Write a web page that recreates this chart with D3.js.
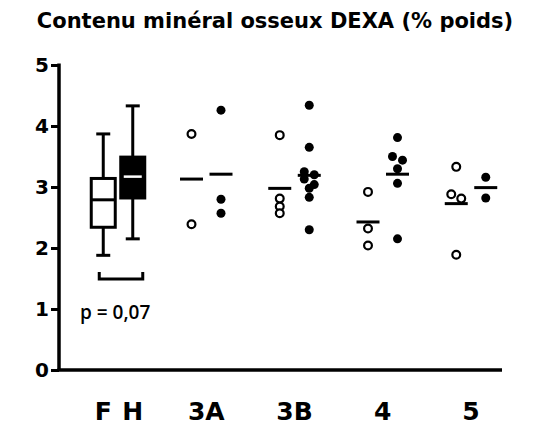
<!DOCTYPE html>
<html>
<head>
<meta charset="utf-8">
<script src="https://cdn.jsdelivr.net/npm/d3@7"></script>
<style>
  body { margin: 0; background: #fff; }
  svg text { font-family: "DejaVu Sans", sans-serif; }
</style>
</head>
<body>
<div id="chart"></div>
<script>
// Box plots (F / H)
const boxLabels = ["F", "H"];
const boxStats = [
  { min: 1.88, q1: 2.34, median: 2.79, q3: 3.14, max: 3.87 },
  { min: 2.15, q1: 2.82, median: 3.17, q3: 3.49, max: 4.33 }
];

// Scatter groups: open = first sex, filled = second
const groups = ["3A", "3B", "4", "5"];
const openValues = [
  [3.87, 2.39],
  [3.85, 2.81, 2.68, 2.57],
  [2.92, 2.32, 2.04],
  [3.33, 2.88, 2.81, 1.89]
];
const filledValues = [
  [4.26, 2.80, 2.57],
  [4.34, 3.65, 3.25, 3.20, 3.13, 3.04, 2.98, 2.83, 2.30],
  [3.81, 3.50, 3.44, 3.30, 3.06, 2.15],
  [3.16, 2.82]
];
const yTicks = [0, 1, 2, 3, 4, 5];
const pLabel = "p = 0,07";
const title = "Contenu minéral osseux DEXA (% poids)";

const width = 550, height = 425;
const plotLeft = 59, plotRight = 502, plotTop = 65, plotBottom = 370;

const svg = d3.select("#chart").append("svg")
  .attr("width", width)
  .attr("height", height);

const y = d3.scaleLinear().domain([0, 5]).range([plotBottom, plotTop]);

// group centres: box pair first, then the scatter groups
const x = d3.scalePoint().domain(["FH", ...groups]).range([118, 471]);
const pairOffset = 14.75;

// title
svg.append("text")
  .attr("x", 275).attr("y", 28)
  .attr("text-anchor", "middle")
  .attr("font-size", 21).attr("font-weight", "bold")
  .text(title);

// y axis
const yAxis = svg.append("g")
  .attr("transform", `translate(${plotLeft},0)`)
  .call(d3.axisLeft(y).tickValues(yTicks).tickFormat(d3.format("d")).tickSize(8).tickSizeOuter(0).tickPadding(2));
yAxis.select(".domain").attr("stroke-width", 3.5).attr("d", `M0,${plotTop - 1.5}V${plotBottom}`);
yAxis.selectAll(".tick line").attr("stroke-width", 3);
yAxis.selectAll(".tick text")
  .attr("font-size", 20).attr("font-weight", "bold")
  .attr("fill", "#000");

// x axis line
svg.append("line")
  .attr("x1", plotLeft - 1.5).attr("x2", plotRight)
  .attr("y1", y(0)).attr("y2", y(0))
  .attr("stroke", "#000").attr("stroke-width", 3.5);

// x labels
const labelY = 420;
boxLabels.forEach((lab, i) => {
  svg.append("text")
    .attr("x", x("FH") + (i === 0 ? -pairOffset : pairOffset))
    .attr("y", labelY)
    .attr("text-anchor", "middle")
    .attr("font-size", 25).attr("font-weight", "bold")
    .text(lab);
});
svg.selectAll(".glabel").data(groups).enter().append("text")
  .attr("class", "glabel")
  .attr("x", d => x(d))
  .attr("y", labelY)
  .attr("text-anchor", "middle")
  .attr("font-size", 25).attr("font-weight", "bold")
  .text(d => d);

// box plots
const boxW = 24, capW = 14;
boxStats.forEach((s, i) => {
  const cx = x("FH") + (i === 0 ? -pairOffset : pairOffset);
  const filled = i === 1;
  const g = svg.append("g");
  g.append("line")
    .attr("x1", cx).attr("x2", cx)
    .attr("y1", y(s.max)).attr("y2", y(s.min))
    .attr("stroke", "#000").attr("stroke-width", 3);
  [s.min, s.max].forEach(v => {
    g.append("line")
      .attr("x1", cx - capW / 2).attr("x2", cx + capW / 2)
      .attr("y1", y(v)).attr("y2", y(v))
      .attr("stroke", "#000").attr("stroke-width", 3);
  });
  g.append("rect")
    .attr("x", cx - boxW / 2).attr("y", y(s.q3))
    .attr("width", boxW).attr("height", y(s.q1) - y(s.q3))
    .attr("fill", filled ? "#000" : "#fff")
    .attr("stroke", "#000").attr("stroke-width", 3);
  g.append("line")
    .attr("x1", cx - boxW / 2 + (filled ? 3 : 0)).attr("x2", cx + boxW / 2 - (filled ? 3 : 0))
    .attr("y1", y(s.median)).attr("y2", y(s.median))
    .attr("stroke", filled ? "#fff" : "#000").attr("stroke-width", filled ? 2.5 : 3);
});

// significance bracket
const bx1 = x("FH") - pairOffset - 4, bx2 = x("FH") + pairOffset + 10;
const bY = y(1.49);
svg.append("path")
  .attr("d", `M${bx1},${bY - 7}V${bY}H${bx2}V${bY - 7}`)
  .attr("fill", "none").attr("stroke", "#000").attr("stroke-width", 3);
svg.append("text")
  .attr("x", 80).attr("y", 319)
  .style("font-family", "'Open Sans', 'Liberation Sans', sans-serif")
  .attr("font-size", 19).attr("font-weight", 600)
  .text(pLabel);

// scatter with simple row-based dodge
const rFilled = 4.5, rOpen = 3.9, rowH = 6, spacing = 10;
function dodge(values) {
  const sorted = values.map(v => ({ v, py: y(v) })).sort((a, b) => a.py - b.py);
  const rows = [];
  sorted.forEach(p => {
    const row = rows[rows.length - 1];
    if (row && p.py - row[0].py < rowH) row.push(p);
    else rows.push([p]);
  });
  rows.forEach(row => row.forEach((p, i) => { p.dx = (i - (row.length - 1) / 2) * spacing; }));
  return sorted;
}

groups.forEach((gname, gi) => {
  [[openValues[gi], -pairOffset, false], [filledValues[gi], pairOffset, true]].forEach(([vals, off, filled]) => {
    const cx = x(gname) + off;
    const pts = dodge(vals);
    svg.append("g").selectAll("circle").data(pts).enter().append("circle")
      .attr("cx", d => cx + d.dx)
      .attr("cy", d => d.py)
      .attr("r", filled ? rFilled : rOpen)
      .attr("fill", filled ? "#000" : "#fff")
      .attr("stroke", "#000").attr("stroke-width", filled ? 0 : 2.2);
    const m = d3.mean(vals);
    svg.append("line")
      .attr("x1", cx - 11.5).attr("x2", cx + 11.5)
      .attr("y1", y(m)).attr("y2", y(m))
      .attr("stroke", "#000").attr("stroke-width", 3);
  });
});
</script>
</body>
</html>
